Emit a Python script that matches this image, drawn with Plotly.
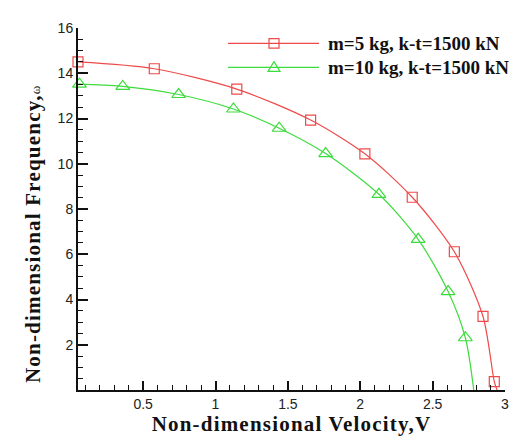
import plotly.graph_objects as go

# Data
v_red = [0.05, 0.577, 1.147, 1.657, 2.032, 2.359, 2.650, 2.848, 2.926]
w_red = [14.50, 14.20, 13.30, 11.93, 10.44, 8.52, 6.11, 3.25, 0.37]
v_red_end = 2.945

v_green = [0.06, 0.359, 0.745, 1.124, 1.440, 1.761, 2.129, 2.400, 2.607, 2.726]
w_green = [13.52, 13.42, 13.06, 12.42, 11.57, 10.45, 8.65, 6.66, 4.35, 2.31]
v_green_start = 0.05
v_green_end = 2.784

labels = ["m=5 kg, k-t=1500 kN", "m=10 kg, k-t=1500 kN"]
x_ticks = [0.5, 1, 1.5, 2, 2.5, 3]
y_ticks = [2, 4, 6, 8, 10, 12, 14, 16]

RED = "#ef4a4a"
GREEN = "#3ddc3d"

fig = go.Figure()

# smooth curves
fig.add_trace(go.Scatter(x=v_red + [v_red_end], y=w_red + [0], mode="lines",
                         line=dict(color=RED, width=1.2, shape="spline", smoothing=0.8),
                         showlegend=False, hoverinfo="skip"))
fig.add_trace(go.Scatter(x=[v_green_start] + v_green + [v_green_end],
                         y=[w_green[0]] + w_green + [0], mode="lines",
                         line=dict(color=GREEN, width=1.2, shape="spline", smoothing=0.8),
                         showlegend=False, hoverinfo="skip"))
# markers
fig.add_trace(go.Scatter(x=v_red, y=w_red, mode="markers", name=labels[0],
                         marker=dict(symbol="square-open", size=10, color=RED, line=dict(width=1.2)),
                         showlegend=False, cliponaxis=False))
fig.add_trace(go.Scatter(x=v_green, y=w_green, mode="markers", name=labels[1],
                         marker=dict(symbol="triangle-up-open", size=12, color=GREEN, line=dict(width=1.2)),
                         showlegend=False, cliponaxis=False))

# manual legend (paper coordinates)
L, T, PW, PH = 70, 16, 427, 376
def px(x):
    return (x - L) / PW
def py(y):
    return (T + PH - y) / PH

shapes = []
for yy, col in [(32, RED), (57, GREEN)]:
    shapes.append(dict(type="line", xref="paper", yref="paper", x0=px(220), x1=px(311),
                       y0=py(yy), y1=py(yy), line=dict(color=col, width=1.2)))
# square marker
shapes.append(dict(type="rect", xref="paper", yref="paper", x0=px(261), x1=px(271),
                   y0=py(37), y1=py(27), line=dict(color=RED, width=1.2), fillcolor="rgba(0,0,0,0)"))
# triangle marker
shapes.append(dict(type="path", xref="paper", yref="paper",
                   path=f"M {px(260)} {py(61)} L {px(272)} {py(61)} L {px(266)} {py(51)} Z",
                   line=dict(color=GREEN, width=1.2), fillcolor="rgba(0,0,0,0)"))

annotations = []
for yy, txt in [(32, labels[0]), (57, labels[1])]:
    annotations.append(dict(xref="paper", yref="paper", x=px(318), y=py(yy),
                            text=f"<b>{txt}</b>",
                            showarrow=False, xanchor="left", yanchor="middle",
                            font=dict(family="Liberation Serif", size=19, color="#111")))
# y-axis title as annotation (positioned like reference)
annotations.append(dict(xref="paper", yref="paper", x=px(25), y=py(230), textangle=-90,
                        text="<span style='letter-spacing:1.2px'><b>Non-dimensional Frequency,</b></span><span style='font-size:13px'>ω</span>",
                        showarrow=False, xanchor="center", yanchor="middle",
                        font=dict(family="Liberation Serif", size=21, color="#111")))

fig.update_layout(
    width=523, height=436,
    margin=dict(l=L, r=523 - L - PW, t=T, b=436 - T - PH),
    paper_bgcolor="white", plot_bgcolor="white",
    shapes=shapes, annotations=annotations,
    xaxis=dict(range=[0.05, 3.0], tickvals=x_ticks, ticktext=["0.5", "1", "1.5", "2", "2.5", "3"],
               showgrid=False, zeroline=False, showline=True, linecolor="#111", linewidth=2,
               ticks="inside", ticklen=9, tickwidth=1.5, tickcolor="#111",
               minor=dict(dtick=0.1, tick0=0, ticks="inside", ticklen=5, tickwidth=1, tickcolor="#111"),
               tickfont=dict(family="Liberation Sans", size=14, color="#222"),
               title=dict(text="<span style='letter-spacing:1.2px'><b>Non-dimensional Velocity,V</b></span>", standoff=6,
                          font=dict(family="Liberation Serif", size=21, color="#111"))),
    yaxis=dict(range=[0, 16], tickvals=y_ticks,
               showgrid=False, zeroline=False, showline=True, linecolor="#111", linewidth=2,
               ticks="inside", ticklen=10, tickwidth=1.5, tickcolor="#111",
               minor=dict(dtick=0.5, tick0=0, ticks="inside", ticklen=5, tickwidth=1, tickcolor="#111"),
               tickfont=dict(family="Liberation Sans", size=14, color="#222")),
)

fig.write_html("out.html")
